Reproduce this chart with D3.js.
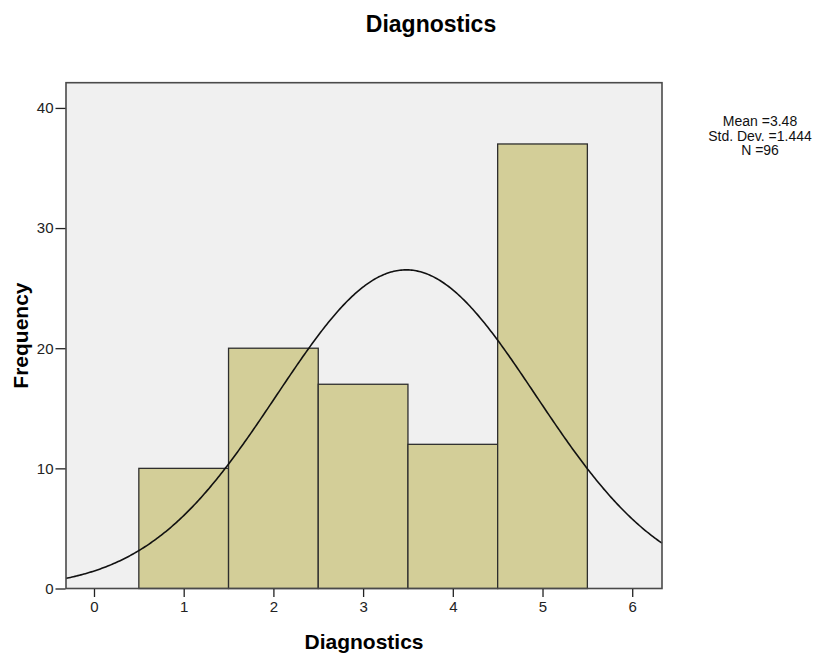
<!DOCTYPE html>
<html><head><meta charset="utf-8">
<script src="https://cdn.jsdelivr.net/npm/d3@7"></script>
<style>body{margin:0;background:#fff}svg{display:block}text{font-family:"Liberation Sans",Arial,sans-serif}</style>
</head><body>
<svg id="c" width="828" height="655"></svg>
<script>
const binStarts = [0.5, 1.5, 2.5, 3.5, 4.5];
const binWidth = 1;
const frequencies = [10, 20, 17, 12, 37];
const xTicks = [0, 1, 2, 3, 4, 5, 6];
const yTicks = [0, 10, 20, 30, 40];
const statLines = ["Mean =3.48", "Std. Dev. =1.444", "N =96"];
const mean = 3.48, sd = 1.444, n = 96;

const svg = d3.select("#c");
const L = 66, R = 662, T = 82.7, B = 588.5;
const x = d3.scaleLinear().domain([-0.312, 6.332]).range([L, R]);
const y = d3.scaleLinear().domain([0, 42.1]).range([B, T]);

svg.append("rect").attr("x", L).attr("y", T).attr("width", R - L).attr("height", B - T)
  .attr("fill", "#f0f0f0");

svg.append("g").selectAll("rect").data(frequencies).join("rect")
  .attr("x", (d, i) => x(binStarts[i]))
  .attr("y", d => y(d))
  .attr("width", (d, i) => x(binStarts[i] + binWidth) - x(binStarts[i]))
  .attr("height", d => B - y(d))
  .attr("fill", "#d3ce98").attr("stroke", "#2e2e2e").attr("stroke-width", 1.3);

const pdf = v => n * binWidth / (sd * Math.sqrt(2 * Math.PI)) * Math.exp(-0.5 * ((v - mean) / sd) ** 2);
const xs = d3.range(0, 401).map(i => -0.312 + i * (6.644) / 400);
svg.append("path").datum(xs)
  .attr("d", d3.line().x(v => x(v)).y(v => y(pdf(v))).curve(d3.curveLinear))
  .attr("fill", "none").attr("stroke", "#111").attr("stroke-width", 1.6);

svg.append("rect").attr("x", L).attr("y", T).attr("width", R - L).attr("height", B - T)
  .attr("fill", "none").attr("stroke", "#4a4a4a").attr("stroke-width", 1.6);

// x axis
const xa = svg.append("g").attr("transform", `translate(0,${B + 0.5})`)
  .call(d3.axisBottom(x).tickValues(xTicks).tickSize(8).tickPadding(4).tickFormat(d3.format("d")));
xa.select(".domain").remove();
xa.selectAll("line").attr("stroke", "#222").attr("stroke-width", 1.3);
xa.selectAll("text").attr("font-size", 15).attr("fill", "#222").attr("font-family", "Liberation Sans, Arial, sans-serif");

// y axis
const ya = svg.append("g").attr("transform", `translate(${L - 0.5},0)`)
  .call(d3.axisLeft(y).tickValues(yTicks).tickSize(10).tickPadding(2).tickFormat(d3.format("d")));
ya.select(".domain").remove();
ya.selectAll("line").attr("stroke", "#222").attr("stroke-width", 1.3);
ya.selectAll("text").attr("font-size", 15).attr("fill", "#222").attr("font-family", "Liberation Sans, Arial, sans-serif");

svg.append("text").attr("x", 431).attr("y", 32).attr("text-anchor", "middle")
  .attr("font-size", 23).attr("font-weight", "bold").text("Diagnostics");
svg.append("text").attr("x", (L + R) / 2).attr("y", 649).attr("text-anchor", "middle")
  .attr("font-size", 21).attr("font-weight", "bold").text("Diagnostics");
svg.append("text").attr("transform", `translate(28,${(T + B) / 2}) rotate(-90)`).attr("text-anchor", "middle")
  .attr("font-size", 21).attr("font-weight", "bold").text("Frequency");

svg.append("g").selectAll("text").data(statLines).join("text")
  .attr("x", 760).attr("y", (d, i) => 126 + i * 14.5).attr("text-anchor", "middle")
  .attr("font-size", 14).attr("fill", "#111").text(d => d);
</script>
</body></html>
